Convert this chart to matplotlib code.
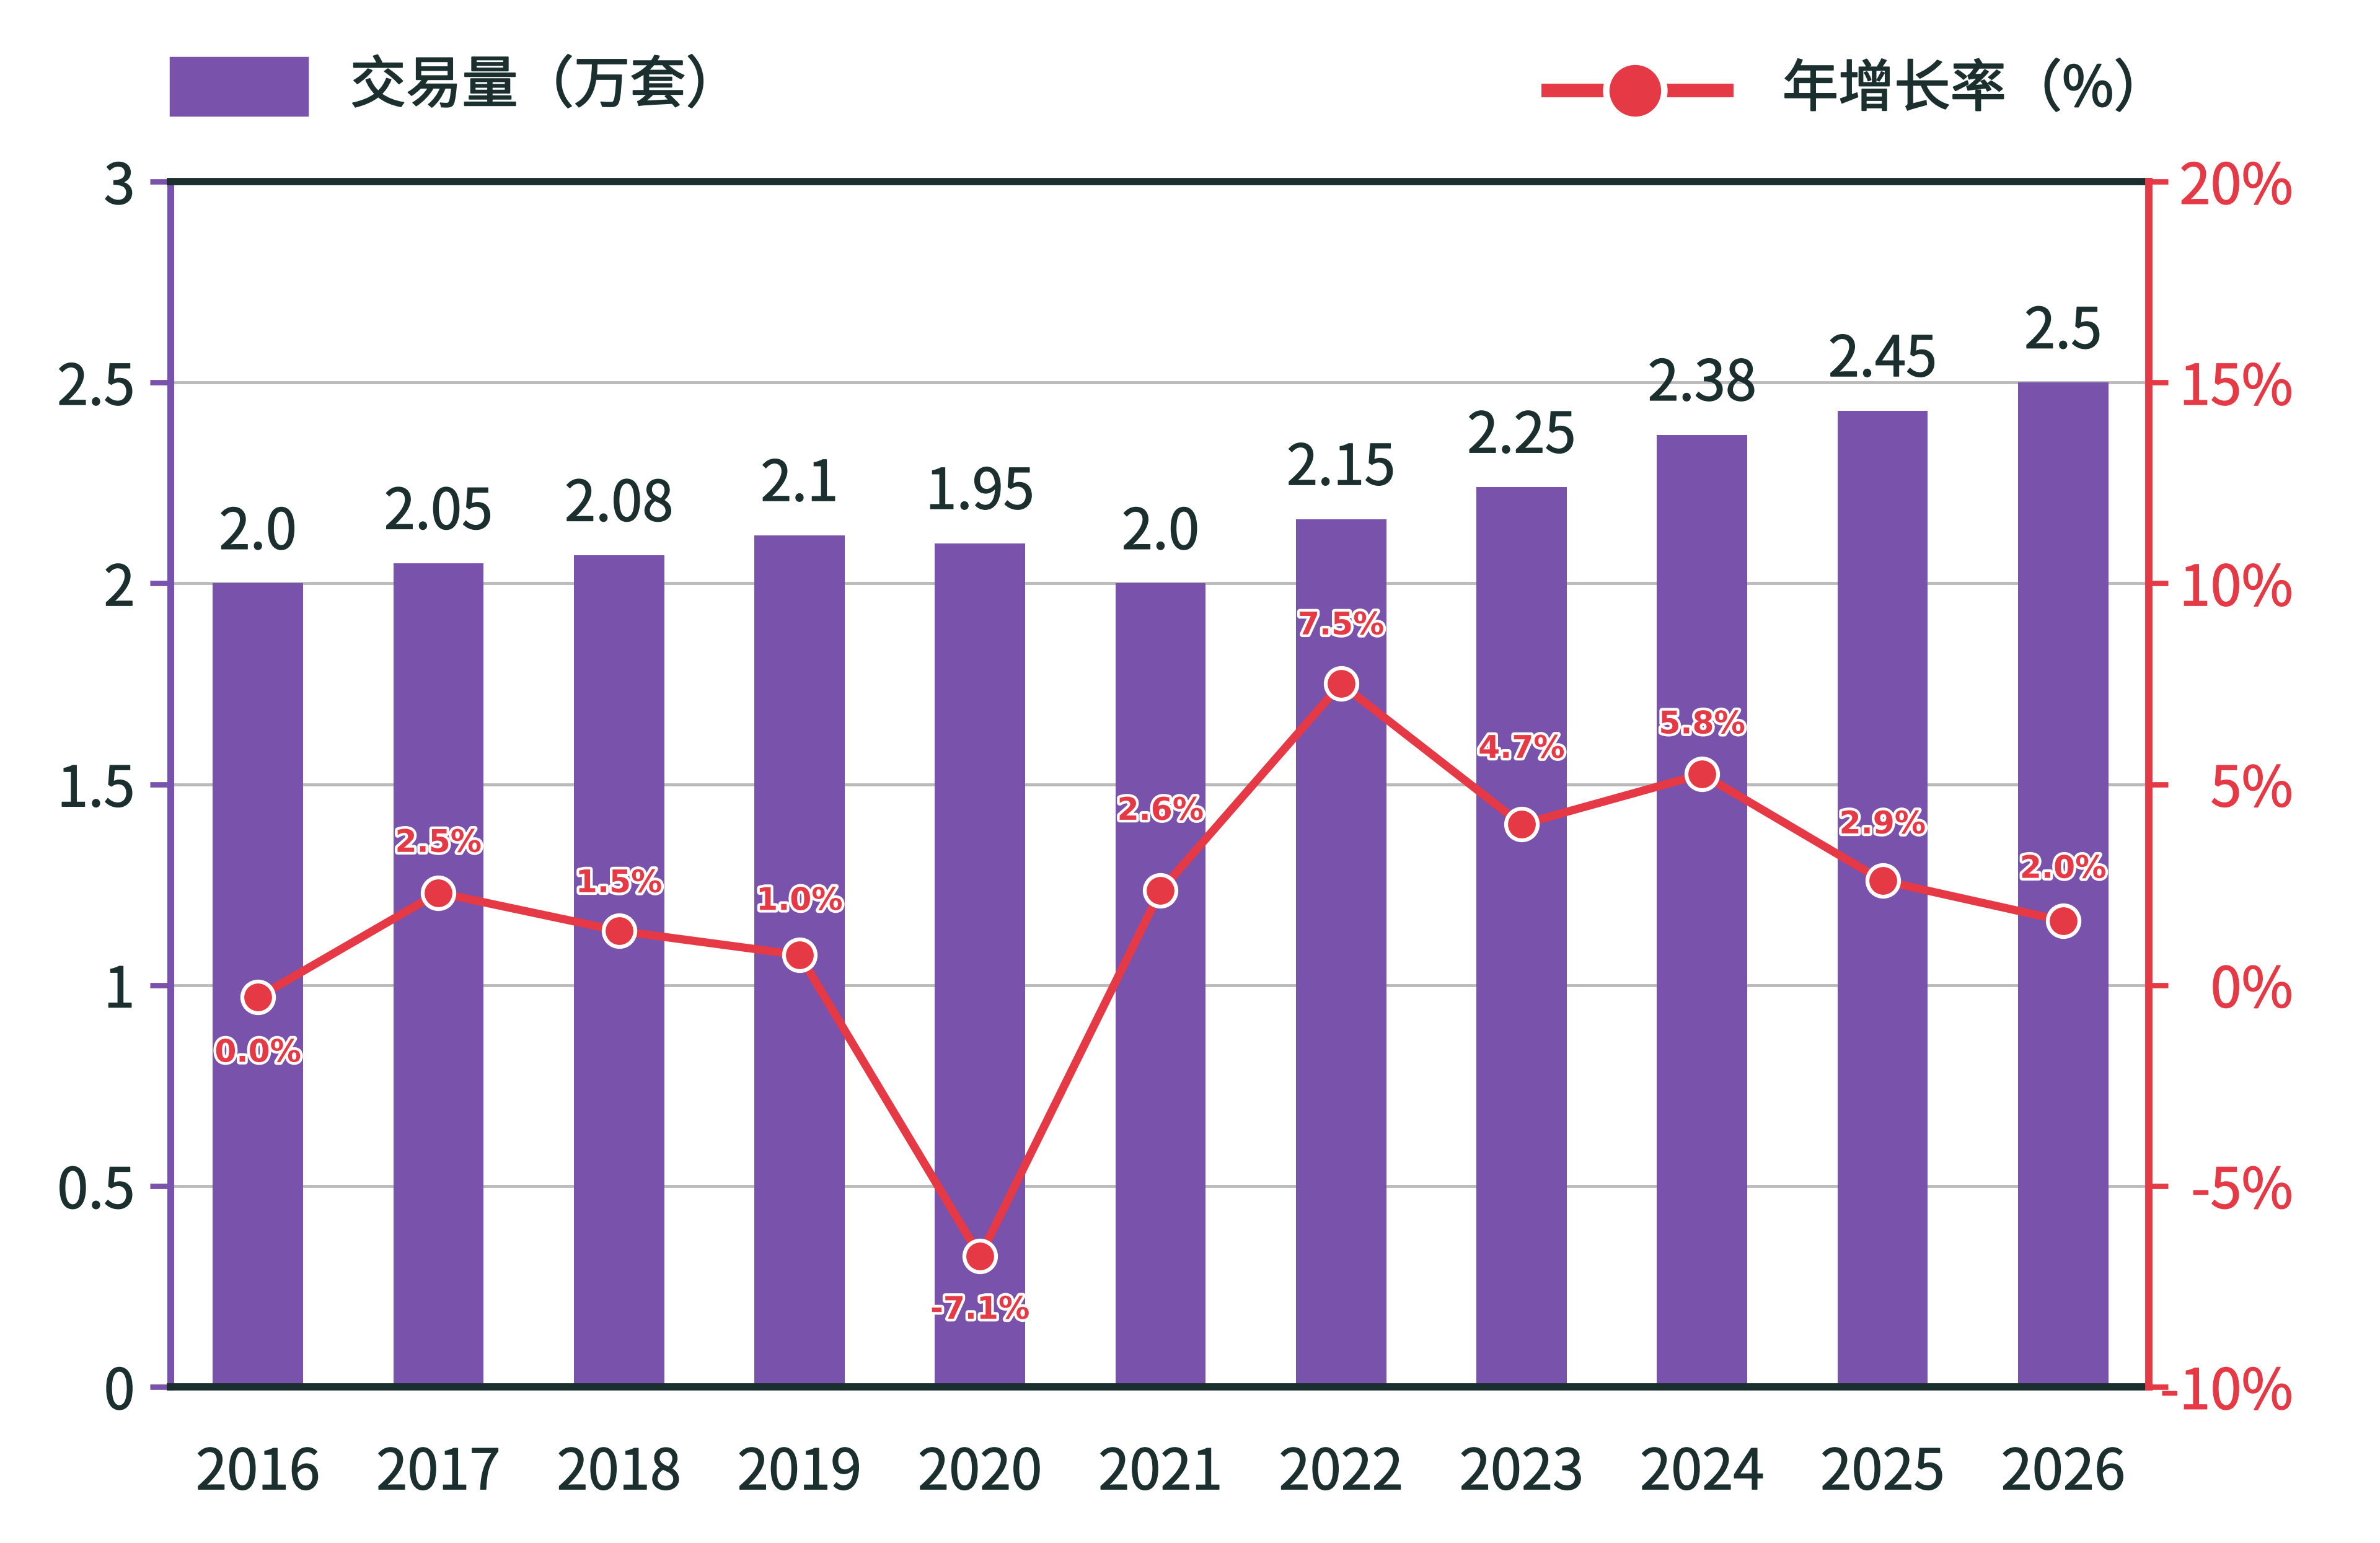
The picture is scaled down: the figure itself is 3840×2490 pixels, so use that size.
import matplotlib
matplotlib.use('Agg')
import matplotlib.pyplot as plt
import matplotlib.patheffects as pe
from matplotlib.patches import Rectangle
from matplotlib.lines import Line2D

plt.rcParams['font.family'] = ['Noto Sans CJK SC', 'DejaVu Sans']

# data
years = ['2016', '2017', '2018', '2019', '2020', '2021', '2022', '2023', '2024', '2025', '2026']
volume = [2.0, 2.05, 2.07, 2.12, 2.10, 2.0, 2.16, 2.24, 2.37, 2.43, 2.5]
volume_labels = ['2.0', '2.05', '2.08', '2.1', '1.95', '2.0', '2.15', '2.25', '2.38', '2.45', '2.5']
growth = [-0.3, 2.3, 1.35, 0.75, -6.75, 2.35, 7.5, 4.0, 5.25, 2.6, 1.6]
growth_labels = ['0.0%', '2.5%', '1.5%', '1.0%', '-7.1%', '2.6%', '7.5%', '4.7%', '5.8%', '2.9%', '2.0%']
left_ticks = [0, 0.5, 1, 1.5, 2, 2.5, 3]
left_tick_labels = ['0', '0.5', '1', '1.5', '2', '2.5', '3']
right_ticks = [-10, -5, 0, 5, 10, 15, 20]
right_tick_labels = ['-10%', '-5%', '0%', '5%', '10%', '15%', '20%']

# label offsets in points (negative = below the marker)
label_offsets = [-26, 23, 22, 25, -25, 37, 27, 35, 23, 26, 24]

PURPLE = '#7952AB'
RED = '#E63946'
DARK = '#1C2F2F'
GRID = '#BBBBBB'


def heavier(color, w=0.4):
    # thicken regular glyphs a bit, the picture uses a medium weight
    return [pe.withStroke(linewidth=w, foreground=color)]


fig = plt.figure(figsize=(15.36, 9.96), dpi=250)
ax = fig.add_axes([0.0716, 0.1012, 0.8313, 0.7811])
x = list(range(len(years)))

ax.bar(x, volume, width=0.5, color=PURPLE, zorder=2)
ax.set_xlim(-0.485, 10.475)
ax.set_ylim(0, 3)
ax.set_yticks(left_ticks)
ax.set_yticklabels(left_tick_labels)
ax.set_xticks(x)
ax.set_xticklabels(years)
ax.set_axisbelow(True)
ax.yaxis.grid(True, color=GRID, lw=1.4)

ax.tick_params(axis='x', length=0, labelsize=26, labelcolor=DARK, pad=27)
ax.tick_params(axis='y', length=9.5, width=2.5, color=PURPLE, labelsize=26,
               labelcolor=DARK, pad=7)
for t in ax.get_xticklabels() + ax.get_yticklabels():
    t.set_path_effects(heavier(DARK))

ax.spines['left'].set_color(PURPLE)
ax.spines['left'].set_linewidth(3.2)
ax.spines['right'].set_visible(False)
for s in ['top', 'bottom']:
    ax.spines[s].set_color(DARK)
    ax.spines[s].set_linewidth(3.4)

for i, (v, lbl) in enumerate(zip(volume, volume_labels)):
    ax.annotate(lbl, (i, v), xytext=(0, 16), textcoords='offset points',
                ha='center', va='baseline', fontsize=26, color=DARK,
                path_effects=heavier(DARK))

ax2 = ax.twinx()
ax2.set_ylim(-10, 20)
ax2.set_yticks(right_ticks)
ax2.set_yticklabels(right_tick_labels)
ax2.plot(x, growth, color=RED, lw=3.8, marker='o', ms=14.7, mfc=RED,
         mec='white', mew=1.8, zorder=3)
ax2.tick_params(axis='y', length=9, width=2.5, color=RED, labelcolor=RED,
                labelsize=26, pad=58)
for t in ax2.get_yticklabels():
    t.set_ha('right')
    t.set_path_effects(heavier(RED))
for s in ['left', 'top', 'bottom']:
    ax2.spines[s].set_visible(False)
ax2.spines['right'].set_color(RED)
ax2.spines['right'].set_linewidth(3.4)

for i, (g, lbl, off) in enumerate(zip(growth, growth_labels, label_offsets)):
    ax2.annotate(lbl, (i, g), xytext=(0, off), textcoords='offset points',
                 ha='center', va='center', fontsize=14.5, fontweight='bold',
                 color=RED, family='DejaVu Sans',
                 path_effects=[pe.withStroke(linewidth=2.5, foreground='white')])

# legend drawn by hand at the top
fig.add_artist(Rectangle((0.0716, 0.9253), 0.0575, 0.0374,
                         transform=fig.transFigure, color=PURPLE))
fig.text(0.1471, 0.9438, '交易量（万套）', fontsize=26, color=DARK,
         ha='left', va='center', path_effects=heavier(DARK, 0.6))
fig.add_artist(Line2D([0.6506, 0.7254], [0.9414, 0.9414], transform=fig.transFigure,
                      color=RED, lw=6.3))
fig.add_artist(Line2D([0.6871], [0.9414], transform=fig.transFigure, marker='o',
                      ms=27, mfc=RED, mec='white', mew=3, linestyle='none'))
fig.text(0.7489, 0.9414, '年增长率（%）', fontsize=26, color=DARK,
         ha='left', va='center', path_effects=heavier(DARK, 0.6))

fig.savefig('out.png', dpi=250)
